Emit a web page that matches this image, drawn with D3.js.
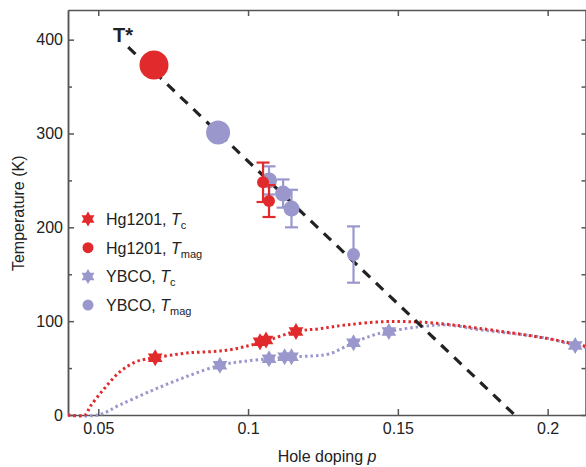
<!DOCTYPE html>
<html>
<head>
<meta charset="utf-8">
<script src="https://cdn.jsdelivr.net/npm/d3@7"></script>
<style>
  body { margin: 0; background: #fff; }
  svg text { font-family: "Liberation Sans", Arial, sans-serif; fill: #222; }
  .axis path, .axis line { stroke: #555; stroke-width: 1.5; }
  .axis text { font-size: 16px; }
</style>
</head>
<body>
<div id="chart"></div>
<script>
// Hg1201 Tc (stars)
const hgTcP = [0.069, 0.104, 0.106, 0.116];
const hgTcT = [61, 78, 80, 89];

// Hg1201 Tmag (circles) - first point is the large no-error estimate
const hgMagP = [0.0686, 0.105, 0.107];
const hgMagT = [373, 248, 228];
const hgMagErr = [0, 21, 17];
const hgMagKind = ['big', 'small', 'small'];

// YBCO Tc (stars)
const ybcoTcP = [0.0906, 0.107, 0.1122, 0.1145, 0.1352, 0.147, 0.2092];
const ybcoTcT = [53, 60, 62, 62, 77, 89, 74];

// YBCO Tmag (circles)
const ybcoMagP = [0.090, 0.107, 0.1117, 0.1145, 0.1352];
const ybcoMagT = [301, 250, 236, 220, 171];
const ybcoMagErr = [0, 15, 15, 20, 30];
const ybcoMagKind = ['big', 'mid', 'mid', 'mid', 'small'];

// dotted Tc dome guides
const hgCurveP = [0.0399, 0.0456, 0.0473, 0.0517, 0.0572, 0.0628, 0.069, 0.0795, 0.0928, 0.104, 0.116, 0.1239, 0.1328, 0.146, 0.1606, 0.177, 0.1995, 0.2106, 0.2128];
const hgCurveT = [0, 0, 9, 27, 46, 57, 61, 66, 69, 77, 89, 92, 96, 99.5, 98.4, 92.4, 81.7, 74.6, 73];
const ybcoCurveP = [0.0399, 0.05, 0.0572, 0.0683, 0.0795, 0.0906, 0.098, 0.107, 0.1145, 0.1217, 0.127, 0.1352, 0.1417, 0.147, 0.157, 0.1661, 0.177, 0.1995, 0.2092, 0.2128];
const ybcoCurveT = [0, 0, 10.7, 26.6, 41, 53, 57, 60, 62, 63, 65, 77, 85, 89, 94, 96, 91, 82, 74, 72];

// T* dashed line
const tStarP = [0.06, 0.189];
const tStarT = [392, 0];

const xTicks = [0.05, 0.1, 0.15, 0.2];
const yTicks = [0, 100, 200, 300, 400];
const yMinor = [50, 150, 250, 350];

const legendItems = [
  { name: 'Hg1201, ', sub: 'c', shape: 'star', series: 'hg' },
  { name: 'Hg1201, ', sub: 'mag', shape: 'circle', series: 'hg' },
  { name: 'YBCO, ', sub: 'c', shape: 'star', series: 'ybco' },
  { name: 'YBCO, ', sub: 'mag', shape: 'circle', series: 'ybco' },
];

const colors = { hg: '#e12a2b', ybco: '#9a97cc' };

const width = 586, height = 467;
const margin = { top: 10, right: 0, bottom: 52, left: 68 };

const svg = d3.select('#chart').append('svg')
  .attr('width', width).attr('height', height);

const x = d3.scaleLinear().domain([0.0399, 0.2128]).range([margin.left, width - margin.right]);
const y = d3.scaleLinear().domain([0, 431.6]).range([height - margin.bottom, margin.top]);

const zip = (ps, ts) => ps.map((p, i) => ({ p, t: ts[i] }));

function starPath(r) {
  const pts = [];
  for (let i = 0; i < 12; i++) {
    const a = -Math.PI / 2 + i * Math.PI / 6;
    const rr = i % 2 === 0 ? r : r * 0.58;
    pts.push([rr * Math.cos(a), rr * Math.sin(a)]);
  }
  return 'M' + pts.map(d => d.join(',')).join('L') + 'Z';
}

// axes
svg.append('g').attr('class', 'axis')
  .attr('transform', `translate(0,${y(0)})`)
  .call(d3.axisBottom(x).tickValues(xTicks).tickSize(-6).tickSizeOuter(0).tickPadding(8).tickFormat(d => String(d)));
svg.append('g').attr('class', 'axis')
  .attr('transform', `translate(0,${margin.top})`)
  .call(d3.axisTop(x).tickValues(xTicks).tickSize(-6).tickSizeOuter(0).tickFormat(''));
svg.append('g').attr('class', 'axis')
  .attr('transform', `translate(${margin.left},0)`)
  .call(d3.axisLeft(y).tickValues(yTicks).tickSize(-6).tickSizeOuter(0).tickPadding(5));
svg.append('g').attr('class', 'axis')
  .attr('transform', `translate(${margin.left},0)`)
  .call(d3.axisLeft(y).tickValues(yMinor).tickSize(-4).tickSizeOuter(0).tickFormat(''));
svg.append('g').attr('class', 'axis')
  .attr('transform', `translate(${width - 0.5},0)`)
  .call(d3.axisRight(y).tickValues(yTicks.concat(yMinor)).tickSize(-4).tickSizeOuter(0).tickFormat(''));

svg.append('text')
  .attr('x', (x(0.0399) + x(0.2128)) / 2).attr('y', 462)
  .attr('text-anchor', 'middle').style('font-size', '16px')
  .call(t => {
    t.append('tspan').text('Hole doping ');
    t.append('tspan').style('font-style', 'italic').text('p');
  });

svg.append('text')
  .attr('transform', `translate(24,${y(215)}) rotate(-90)`)
  .attr('text-anchor', 'middle').style('font-size', '16px')
  .text('Temperature (K)');

// dotted dome curves
const line = d3.line().x(d => x(d.p)).y(d => y(d.t)).curve(d3.curveCatmullRom.alpha(0.5));
svg.append('path').datum(zip(ybcoCurveP, ybcoCurveT))
  .attr('d', line).attr('fill', 'none')
  .attr('stroke', colors.ybco).attr('stroke-width', 3).attr('stroke-dasharray', '2.5,3');
svg.append('path').datum(zip(hgCurveP, hgCurveT))
  .attr('d', line).attr('fill', 'none')
  .attr('stroke', colors.hg).attr('stroke-width', 3).attr('stroke-dasharray', '2.5,3');

// T* dashed line
svg.append('path').datum(zip(tStarP, tStarT))
  .attr('d', d3.line().x(d => x(d.p)).y(d => y(d.t)))
  .attr('stroke', '#222').attr('stroke-width', 3.2).attr('stroke-dasharray', '10,8');
svg.append('text')
  .attr('x', x(0.0549)).attr('y', y(397))
  .style('font-size', '20px').style('font-weight', 'bold')
  .text('T*');

// Tmag circles with error bars
function drawMag(ps, ts, errs, kinds, color, r) {
  const data = ps.map((p, i) => ({ p, t: ts[i], e: errs[i], k: kinds[i] }));
  const g = svg.append('g');
  const eb = g.selectAll('g.err').data(data.filter(d => d.e > 0)).join('g')
    .attr('stroke', color).attr('stroke-width', 2.2);
  eb.append('line')
    .attr('x1', d => x(d.p)).attr('x2', d => x(d.p))
    .attr('y1', d => y(d.t - d.e)).attr('y2', d => y(d.t + d.e));
  [1, -1].forEach(s => {
    eb.append('line')
      .attr('x1', d => x(d.p) - 6.5).attr('x2', d => x(d.p) + 6.5)
      .attr('y1', d => y(d.t + s * d.e)).attr('y2', d => y(d.t + s * d.e));
  });
  g.selectAll('circle').data(data).join('circle')
    .attr('cx', d => x(d.p)).attr('cy', d => y(d.t))
    .attr('r', d => r[d.k]).attr('fill', color);
}
drawMag(ybcoMagP, ybcoMagT, ybcoMagErr, ybcoMagKind, colors.ybco, { big: 12, mid: 8, small: 6.5 });
drawMag(hgMagP, hgMagT, hgMagErr, hgMagKind, colors.hg, { big: 14.5, small: 6 });

// Tc stars
function drawStars(ps, ts, color) {
  svg.append('g').selectAll('path').data(zip(ps, ts)).join('path')
    .attr('transform', d => `translate(${x(d.p)},${y(d.t)})`)
    .attr('d', starPath(8.5)).attr('fill', color);
}
drawStars(ybcoTcP, ybcoTcT, colors.ybco);
drawStars(hgTcP, hgTcT, colors.hg);

// legend
const legend = svg.append('g').attr('transform', 'translate(88,219)');
const rows = legend.selectAll('g').data(legendItems).join('g')
  .attr('transform', (d, i) => `translate(0,${i * 28.7})`);
rows.each(function (d) {
  const g = d3.select(this);
  if (d.shape === 'star') g.append('path').attr('d', starPath(7.5)).attr('fill', colors[d.series]);
  else g.append('circle').attr('r', 5.5).attr('fill', colors[d.series]);
  const t = g.append('text').attr('x', 18).attr('y', 6).style('font-size', '16px');
  t.append('tspan').text(d.name);
  t.append('tspan').style('font-style', 'italic').text('T');
  t.append('tspan').attr('dy', 4).style('font-size', '11px').text(d.sub);
});
</script>
</body>
</html>
